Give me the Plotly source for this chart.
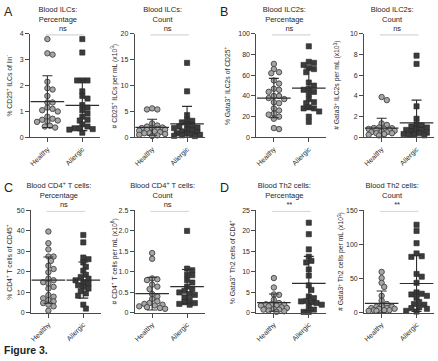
import plotly.graph_objects as go

W, H = 438, 361
FONT = "Liberation Sans, Arial, sans-serif"

# ---------------- data ----------------
categories = ["Healthy", "Allergic"]

a1_healthy = [3.8, 3.25, 3.2, 2.15, 1.9, 1.85, 1.6, 1.35, 1.35, 1.15, 1.1, 1.05, 1.0, 0.8, 0.72, 0.68, 0.65, 0.62, 0.6, 0.45, 0.42, 0.38]
a1_allergic = [3.8, 3.28, 2.2, 2.2, 2.2, 1.78, 1.6, 1.5, 1.25, 1.15, 1.05, 0.92, 0.8, 0.68, 0.65, 0.5, 0.42, 0.35, 0.35, 0.32, 0.3, 0.18]
a2_healthy = [5.6, 5.4, 5.4, 2.7, 2.3, 2.1, 1.9, 1.8, 1.8, 1.65, 1.5, 1.45, 1.3, 1.15, 1.0, 0.8, 0.8, 0.65, 0.5, 0.4, 0.25]
a2_allergic = [14.4, 8.9, 4.3, 3.4, 3.2, 2.9, 2.5, 2.3, 2.1, 1.9, 1.8, 1.5, 1.3, 1.15, 1.0, 0.8, 0.75, 0.6, 0.5, 0.4, 0.3, 0.25]
b1_healthy = [71, 66, 63, 62, 55, 52, 47, 46, 44, 40, 40, 38, 37, 34, 33, 28, 26, 23, 22, 20, 18, 9, 8]
b1_allergic = [88, 73, 72, 70, 67, 66, 63, 53, 50, 47, 46, 44, 42, 37, 34, 33, 29, 28, 28, 25, 20, 15]
b2_healthy = [3.9, 3.6, 1.35, 1.2, 0.95, 0.9, 0.88, 0.82, 0.82, 0.72, 0.72, 0.63, 0.57, 0.5, 0.5, 0.4, 0.4, 0.32, 0.25, 0.19]
b2_allergic = [7.9, 7.1, 3.0, 1.8, 1.25, 1.15, 1.05, 0.95, 0.8, 0.72, 0.72, 0.57, 0.45, 0.41, 0.32, 0.3, 0.25, 0.2]
c1_healthy = [39.7, 34, 31, 27.5, 27.5, 25.4, 23, 21.4, 19.8, 16.7, 15.9, 15, 14.3, 12.7, 11.9, 8.7, 7.9, 7.1, 6.3, 5.6, 4.8, 4.0, 3.2, 1.1]
c1_allergic = [38, 34.4, 27, 26.2, 24.6, 22.5, 20.6, 18.6, 17.5, 16.7, 15.9, 15, 14.3, 13.5, 12.7, 11.9, 10.6, 9.5, 8.4, 4.0, 2.1]
c2_healthy = [1.46, 1.32, 0.84, 0.82, 0.8, 0.69, 0.64, 0.58, 0.46, 0.4, 0.34, 0.28, 0.24, 0.22, 0.2, 0.18, 0.16, 0.14, 0.12, 0.1]
c2_allergic = [2.0, 1.08, 1.04, 0.93, 0.92, 0.8, 0.74, 0.64, 0.58, 0.54, 0.5, 0.46, 0.44, 0.38, 0.32, 0.26, 0.24, 0.22, 0.2]
d1_healthy = [8.5, 6.2, 4.5, 4.4, 3.2, 2.4, 2.1, 2.1, 2.0, 1.8, 1.8, 1.6, 1.35, 1.2, 0.95, 0.8, 0.8, 0.55, 0.4, 0.25]
d1_allergic = [22, 19.2, 15.5, 13.7, 12.7, 12.3, 10.6, 9.1, 6.7, 5.6, 4.0, 3.6, 2.9, 2.8, 2.6, 2.4, 2.0, 1.6, 0.8, 0.25, 0.25]
d2_healthy = [60, 51, 44, 38, 25, 18, 13, 10, 9, 9, 7, 7, 6, 6, 4, 4, 4, 3, 3]
d2_allergic = [129, 120, 102, 87, 83, 82, 57, 53, 44, 30, 28, 27, 25, 22, 16, 13, 12, 8, 7, 6, 3, 2]

# mean and SD as drawn (healthy, allergic)
a1_mean, a1_sd = [1.38, 1.24], [1.0, 0.98]
a2_mean, a2_sd = [1.95, 2.6], [1.55, 3.4]
b1_mean, b1_sd = [38, 47.5], [19, 19.5]
b2_mean, b2_sd = [0.9, 1.4], [0.95, 2.2]
c1_mean, c1_sd = [16, 16], [11.3, 8.8]
c2_mean, c2_sd = [0.47, 0.64], [0.4, 0.42]
d1_mean, d1_sd = [2.5, 7.2], [2.1, 6.6]
d2_mean, d2_sd = [14, 43], [18, 41]

a1_ticks = [0, 1, 2, 3, 4]
a2_ticks = [0, 5, 10, 15, 20]
b1_ticks = [0, 20, 40, 60, 80, 100]
b2_ticks = [0, 2, 4, 6, 8, 10]
c1_ticks = [0, 10, 20, 30, 40, 50]
c2_ticks = [0, 0.5, 1.0, 1.5, 2.0, 2.5]
c2_ticktext = ["0", "0.5", "1.0", "1.5", "2.0", "2.5"]
d1_ticks = [0, 5, 10, 15, 20, 25]
d2_ticks = [0, 50, 100, 150]

panels = [
    dict(h=a1_healthy, a=a1_allergic, mean=a1_mean, sd=a1_sd, ticks=a1_ticks, tt=None,
         t1="Blood ILCs:", t2="Percentage", yt="% CD25<sup>+</sup> ILCs of lin<sup>-</sup>", sig="ns",
         x0=29, row=0, ytx=8, letter="A"),
    dict(h=a2_healthy, a=a2_allergic, mean=a2_mean, sd=a2_sd, ticks=a2_ticks, tt=None,
         t1="Blood ILCs:", t2="Count", yt="# CD25<sup>+</sup> ILCs per mL (x10<sup>3</sup>)", sig="ns",
         x0=134, row=0, ytx=114, letter=None),
    dict(h=b1_healthy, a=b1_allergic, mean=b1_mean, sd=b1_sd, ticks=b1_ticks, tt=None,
         t1="Blood ILC2s:", t2="Percentage", yt="% Gata3<sup>+</sup> ILC2s of CD25<sup>+</sup>", sig="ns",
         x0=256, row=0, ytx=226, letter="B"),
    dict(h=b2_healthy, a=b2_allergic, mean=b2_mean, sd=b2_sd, ticks=b2_ticks, tt=None,
         t1="Blood ILC2s:", t2="Count", yt="# Gata3<sup>+</sup> ILC2s per mL (x10<sup>3</sup>)", sig="ns",
         x0=364, row=0, ytx=337, letter=None),
    dict(h=c1_healthy, a=c1_allergic, mean=c1_mean, sd=c1_sd, ticks=c1_ticks, tt=None,
         t1="Blood CD4<sup>+</sup> T cells:", t2="Percentage", yt="% CD4<sup>+</sup> T cells of CD45<sup>+</sup>", sig="ns",
         x0=30, row=1, ytx=8, letter="C"),
    dict(h=c2_healthy, a=c2_allergic, mean=c2_mean, sd=c2_sd, ticks=c2_ticks, tt=c2_ticktext,
         t1="Blood CD4<sup>+</sup> T cells:", t2="Count", yt="# CD4<sup>+</sup> T cells per mL (x10<sup>6</sup>)", sig="ns",
         x0=134, row=1, ytx=114, letter=None),
    dict(h=d1_healthy, a=d1_allergic, mean=d1_mean, sd=d1_sd, ticks=d1_ticks, tt=None,
         t1="Blood Th2 cells:", t2="Percentage", yt="% Gata3<sup>+</sup> Th2 cells of CD4<sup>+</sup>", sig="**",
         x0=256, row=1, ytx=231, letter="D"),
    dict(h=d2_healthy, a=d2_allergic, mean=d2_mean, sd=d2_sd, ticks=d2_ticks, tt=None,
         t1="Blood Th2 cells:", t2="Count", yt="# Gata3<sup>+</sup> Th2 cells per mL (x10<sup>3</sup>)", sig="**",
         x0=364, row=1, ytx=341, letter=None),
]

# ---------------- layout geometry ----------------
ROW_TOP = [30.5, 210.5]
ROW_BOT = [136, 315]
PW = 70          # plot width px
XPX = PW / 2.0   # px per category unit (range -0.5..1.5)


def px(x):
    return x / W


def py(y):
    return 1 - y / H


def swarm(vals, yscale, diam=4.6, step=2.6, maxoff=13.0):
    """deterministic beeswarm x offsets (category units), limited width"""
    order = sorted(range(len(vals)), key=lambda i: -vals[i])
    placed = []
    offs = [0.0] * len(vals)
    for i in order:
        yv = vals[i] * yscale
        cands = [0.0]
        k = 1
        while k * step <= maxoff:
            cands += [k * step, -k * step]
            k += 1
        chosen = None
        best, best_d = 0.0, -1
        for c in cands:
            dmin = min([((c - ox) ** 2 + (yv - oy) ** 2) ** 0.5 for ox, oy in placed] or [99])
            if dmin >= diam:
                chosen = c
                break
            if dmin > best_d:
                best, best_d = c, dmin
        if chosen is None:
            chosen = best
        placed.append((chosen, yv))
        offs[i] = chosen / XPX
    return offs


AX_COL = "#4a4a4a"
TXT_COL = "#2b2b2b"

fig = go.Figure()
annotations = []
shapes = []
layout_axes = {}

title_x, title_y, title_t = [], [], []

for n, p in enumerate(panels, start=1):
    xa = "x" if n == 1 else f"x{n}"
    ya = "y" if n == 1 else f"y{n}"
    top = p["ticks"][-1]
    r = p["row"]
    yscale = (ROW_BOT[r] - ROW_TOP[r]) / top

    hx = [0 + o for o in swarm(p["h"], yscale)]
    ax_ = [1 + o for o in swarm(p["a"], yscale)]
    fig.add_trace(go.Scatter(
        x=hx, y=p["h"], mode="markers", xaxis=xa, yaxis=ya, cliponaxis=False,
        marker=dict(symbol="circle", size=5.4, color="#a6a6a6",
                    line=dict(color="#4d4d4d", width=1)), hoverinfo="y"))
    fig.add_trace(go.Scatter(
        x=ax_, y=p["a"], mode="markers", xaxis=xa, yaxis=ya, cliponaxis=False,
        marker=dict(symbol="square", size=5.2, color="#3c3c3c",
                    line=dict(color="#262626", width=0.6)), hoverinfo="y"))
    fig.add_trace(go.Scatter(
        x=[0, 1], y=p["mean"], mode="markers", xaxis=xa, yaxis=ya, cliponaxis=False,
        marker=dict(symbol="line-ew", size=24, line=dict(color="#2e2e2e", width=1.2)),
        error_y=dict(type="data", symmetric=False, array=p["sd"],
                     arrayminus=[min(s, m) for s, m in zip(p["sd"], p["mean"])],
                     width=5, thickness=1.1, color="#2e2e2e"),
        hoverinfo="skip"))

    layout_axes["xaxis" if n == 1 else f"xaxis{n}"] = dict(
        domain=[px(p["x0"]), px(p["x0"] + PW)], range=[-0.5, 1.5], anchor=ya,
        tickvals=[0, 1], ticktext=categories, tickangle=-45,
        showline=True, linecolor=AX_COL, linewidth=1, ticks="outside", ticklen=4,
        tickcolor=AX_COL, tickwidth=1, showgrid=False, zeroline=False,
        tickfont=dict(size=7, color=TXT_COL, family=FONT), fixedrange=True)
    layout_axes["yaxis" if n == 1 else f"yaxis{n}"] = dict(
        domain=[py(ROW_BOT[r]), py(ROW_TOP[r])], range=[0, top], anchor=xa,
        tickvals=p["ticks"], ticktext=p["tt"] if p["tt"] else [str(t) for t in p["ticks"]],
        showline=True, linecolor=AX_COL, linewidth=1, ticks="outside", ticklen=4,
        tickcolor=AX_COL, tickwidth=1, showgrid=False, zeroline=False,
        tickfont=dict(size=7, color=TXT_COL, family=FONT), fixedrange=True)

    shapes.append(dict(type="line", xref=xa, yref=ya, x0=-0.05, x1=1.05,
                       y0=top * 0.99, y1=top * 0.99, line=dict(color="#7a7a7a", width=1.2)))

    cx = p["x0"] + 28
    t_y = [6, 16] if r == 0 else [186, 196]
    s_y = 25.5 if r == 0 else 205.5
    title_x += [cx, cx, p["x0"] + 33]
    title_y += [t_y[0], t_y[1], s_y]
    title_t += [p["t1"], p["t2"], p["sig"]]

    annotations.append(dict(xref="paper", yref="paper", x=px(p["ytx"]),
                            y=py((ROW_TOP[r] + ROW_BOT[r]) / 2), text=p["yt"],
                            textangle=-90, showarrow=False, xanchor="center", yanchor="middle",
                            font=dict(size=6.8, color=TXT_COL, family=FONT)))

    if p["letter"]:
        lx = 1 if p["x0"] < 100 else 217
        ly = 8 if r == 0 else 188
        annotations.append(dict(xref="paper", yref="paper", x=px(lx), y=py(ly), text=p["letter"],
                                showarrow=False, xanchor="left", yanchor="middle",
                                font=dict(size=12.5, color="#222222", family=FONT)))

# panel titles / significance marks as a text trace on a pixel-space overlay axis
fig.add_trace(go.Scatter(
    x=title_x, y=title_y, text=title_t, mode="text", xaxis="x9", yaxis="y9",
    textposition="middle center", cliponaxis=False, hoverinfo="skip",
    textfont=dict(size=7.5, color="#262626", family=FONT)))
layout_axes["xaxis9"] = dict(domain=[0, 1], range=[0, W], visible=False, fixedrange=True,
                             anchor="y9")
layout_axes["yaxis9"] = dict(domain=[0, 1], range=[H, 0], visible=False, fixedrange=True,
                             anchor="x9")

annotations.append(dict(xref="paper", yref="paper", x=px(1), y=py(353), text="<b>Figure 3.</b>",
                        showarrow=False, xanchor="left", yanchor="middle",
                        font=dict(size=10.5, color="#222222", family=FONT)))

fig.update_layout(
    template="simple_white",
    width=W, height=H, margin=dict(l=0, r=0, t=0, b=0),
    font=dict(family=FONT, color=TXT_COL, size=7),
    paper_bgcolor="white", plot_bgcolor="rgba(0,0,0,0)", showlegend=False,
    hovermode=False,
    annotations=annotations, shapes=shapes, **layout_axes)

fig.write_html("out.html", config={"displayModeBar": False, "staticPlot": True},
               post_script="document.body.style.margin='0px';document.body.style.padding='0px';")
